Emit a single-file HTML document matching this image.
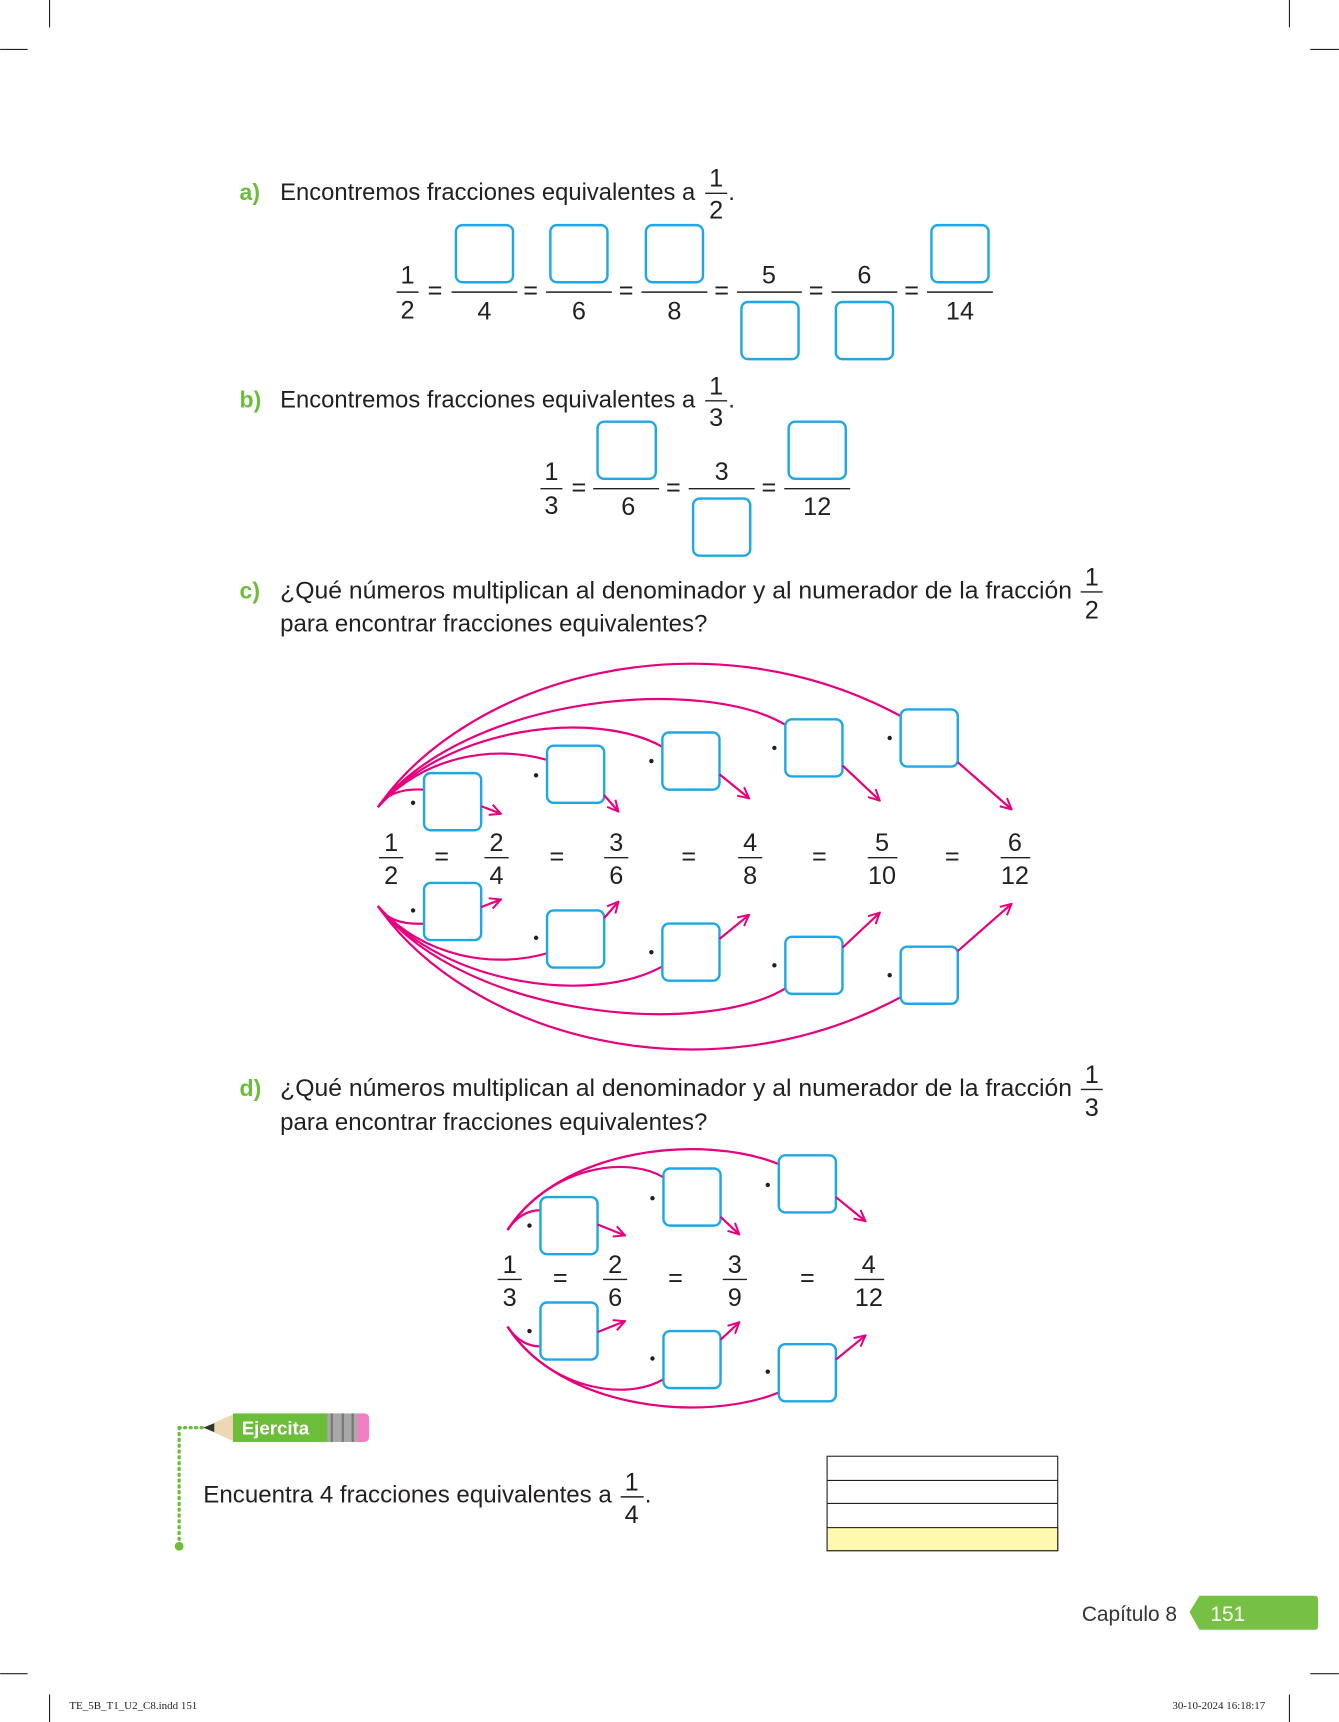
<!DOCTYPE html>
<html><head><meta charset="utf-8"><style>
html,body{margin:0;padding:0;background:#fff;width:1339px;height:1722px;overflow:hidden}
svg{display:block}
text{font-family:"Liberation Sans",sans-serif;fill:#231f20}
.t{font-size:22px}
.n{font-size:23px;text-anchor:middle}
.g{fill:#6cbd3a;font-weight:bold;font-size:21px}
.bx{fill:none;stroke:#1ea7e6;stroke-width:2.2}
.bar{stroke:#231f20;stroke-width:1.3}
.pk{fill:none;stroke:#e6007e;stroke-width:2}
</style></head><body>
<svg width="1339" height="1722" viewBox="0 0 1219 1568" xmlns="http://www.w3.org/2000/svg">
<defs>
<marker id="ar" viewBox="0 0 12 12" refX="11" refY="6" markerWidth="12" markerHeight="12" markerUnits="userSpaceOnUse" orient="auto">
<path d="M1,1 L11,6 L1,11" fill="none" stroke="#e6007e" stroke-width="1.8"/>
</marker>
</defs>
<g stroke="#231f20" stroke-width="1">
<line x1="45" y1="0" x2="45" y2="25"/><line x1="1174" y1="0" x2="1174" y2="25"/>
<line x1="0" y1="45" x2="25" y2="45"/><line x1="1193" y1="45" x2="1219" y2="45"/>
<line x1="0" y1="1524" x2="25" y2="1524"/><line x1="1193" y1="1524" x2="1219" y2="1524"/>
<line x1="45" y1="1543" x2="45" y2="1568"/><line x1="1174" y1="1543" x2="1174" y2="1568"/>
</g>
<text x="63" y="1556" style="font-family:'Liberation Serif',serif;font-size:10px">TE_5B_T1_U2_C8.indd 151</text>
<text x="1152" y="1556" text-anchor="end" style="font-family:'Liberation Serif',serif;font-size:10px">30-10-2024 16:18:17</text>

<text class="g" x="218" y="182">a)</text>
<text class="t" x="255" y="182" textLength="378" lengthAdjust="spacingAndGlyphs">Encontremos fracciones equivalentes a</text>
<text class="n" x="652" y="170">1</text><line class="bar" x1="642" y1="176" x2="662" y2="176"/><text class="n" x="652" y="199">2</text><text class="t" x="663" y="182">.</text>

<text class="n" x="371" y="258">1</text><line class="bar" x1="361" y1="266" x2="381" y2="266"/><text class="n" x="371" y="290">2</text>
<text class="n" x="396" y="272">=</text>
<rect class="bx" x="415" y="205" width="52" height="52" rx="6"/><line class="bar" x1="411" y1="266" x2="471" y2="266"/><text class="n" x="441" y="291">4</text>
<text class="n" x="483" y="272">=</text>
<rect class="bx" x="501" y="205" width="52" height="52" rx="6"/><line class="bar" x1="497" y1="266" x2="557" y2="266"/><text class="n" x="527" y="291">6</text>
<text class="n" x="570" y="272">=</text>
<rect class="bx" x="588" y="205" width="52" height="52" rx="6"/><line class="bar" x1="584" y1="266" x2="644" y2="266"/><text class="n" x="614" y="291">8</text>
<text class="n" x="657" y="272">=</text>
<text class="n" x="700" y="258">5</text><line class="bar" x1="671" y1="266" x2="730" y2="266"/><rect class="bx" x="675" y="275" width="52" height="52" rx="6"/>
<text class="n" x="743" y="272">=</text>
<text class="n" x="787" y="258">6</text><line class="bar" x1="757" y1="266" x2="817" y2="266"/><rect class="bx" x="761" y="275" width="52" height="52" rx="6"/>
<text class="n" x="830" y="272">=</text>
<rect class="bx" x="848" y="205" width="52" height="52" rx="6"/><line class="bar" x1="844" y1="266" x2="904" y2="266"/><text class="n" x="874" y="291">14</text>

<text class="g" x="218" y="371">b)</text>
<text class="t" x="255" y="371" textLength="378" lengthAdjust="spacingAndGlyphs">Encontremos fracciones equivalentes a</text>
<text class="n" x="652" y="359">1</text><line class="bar" x1="642" y1="365" x2="662" y2="365"/><text class="n" x="652" y="388">3</text><text class="t" x="663" y="371">.</text>

<text class="n" x="502" y="437">1</text><line class="bar" x1="492" y1="445" x2="512" y2="445"/><text class="n" x="502" y="468">3</text>
<text class="n" x="527" y="451">=</text>
<rect class="bx" x="544" y="384" width="53" height="52" rx="6"/><line class="bar" x1="540" y1="445" x2="600" y2="445"/><text class="n" x="572" y="469">6</text>
<text class="n" x="613" y="451">=</text>
<text class="n" x="657" y="437">3</text><line class="bar" x1="627" y1="445" x2="687" y2="445"/><rect class="bx" x="631" y="454" width="52" height="52" rx="6"/>
<text class="n" x="700" y="451">=</text>
<rect class="bx" x="718" y="384" width="52" height="52" rx="6"/><line class="bar" x1="714" y1="445" x2="774" y2="445"/><text class="n" x="744" y="469">12</text>

<text class="g" x="218" y="545">c)</text>
<text class="t" x="255" y="545" textLength="721" lengthAdjust="spacingAndGlyphs">¿Qué números multiplican al denominador y al numerador de la fracción</text>
<text class="n" x="994" y="533">1</text><line class="bar" x1="984" y1="539" x2="1004" y2="539"/><text class="n" x="994" y="563">2</text>
<text class="t" x="255" y="575" textLength="389" lengthAdjust="spacingAndGlyphs">para encontrar fracciones equivalentes?</text>

<g id="ctop">
<path class="pk" d="M344,735 C352,722 368,718 386,719"/>
<path class="pk" d="M344,735 C385,688 450,678 498,692"/>
<path class="pk" d="M344,735 C405,662 540,645 603,680"/>
<path class="pk" d="M344,735 C425,632 640,615 715,660"/>
<path class="pk" d="M344,735 C425,618 640,555 820,652"/>
<rect class="bx" x="386" y="704" width="52" height="52" rx="6" fill="#fff"/>
<rect class="bx" x="498" y="679" width="52" height="52" rx="6"/>
<rect class="bx" x="603" y="667" width="52" height="52" rx="6"/>
<rect class="bx" x="715" y="655" width="52" height="52" rx="6"/>
<rect class="bx" x="820" y="646" width="52" height="52" rx="6"/>
<g fill="#231f20"><circle cx="376" cy="731" r="2"/><circle cx="488" cy="706" r="2"/><circle cx="593" cy="693" r="2"/><circle cx="705" cy="681" r="2"/><circle cx="810" cy="672" r="2"/></g>
<path class="pk" d="M438,734 L456,741" marker-end="url(#ar)"/>
<path class="pk" d="M550,724 L563,739" marker-end="url(#ar)"/>
<path class="pk" d="M655,705 L682,727" marker-end="url(#ar)"/>
<path class="pk" d="M767,697 L801,729" marker-end="url(#ar)"/>
<path class="pk" d="M872,694 L921,737" marker-end="url(#ar)"/>
</g>
<use href="#ctop" transform="translate(0,1560) scale(1,-1)"/>

<text class="n" x="356" y="775">1</text><line class="bar" x1="345" y1="781" x2="367" y2="781"/><text class="n" x="356" y="805">2</text>
<text class="n" x="402" y="787">=</text>
<text class="n" x="452" y="775">2</text><line class="bar" x1="441" y1="781" x2="463" y2="781"/><text class="n" x="452" y="805">4</text>
<text class="n" x="507" y="787">=</text>
<text class="n" x="561" y="775">3</text><line class="bar" x1="550" y1="781" x2="572" y2="781"/><text class="n" x="561" y="805">6</text>
<text class="n" x="627" y="787">=</text>
<text class="n" x="683" y="775">4</text><line class="bar" x1="672" y1="781" x2="694" y2="781"/><text class="n" x="683" y="805">8</text>
<text class="n" x="746" y="787">=</text>
<text class="n" x="803" y="775">5</text><line class="bar" x1="790" y1="781" x2="817" y2="781"/><text class="n" x="803" y="805">10</text>
<text class="n" x="867" y="787">=</text>
<text class="n" x="924" y="775">6</text><line class="bar" x1="911" y1="781" x2="938" y2="781"/><text class="n" x="924" y="805">12</text>

<text class="g" x="218" y="998">d)</text>
<text class="t" x="255" y="998" textLength="721" lengthAdjust="spacingAndGlyphs">¿Qué números multiplican al denominador y al numerador de la fracción</text>
<text class="n" x="994" y="986">1</text><line class="bar" x1="984" y1="992" x2="1004" y2="992"/><text class="n" x="994" y="1016">3</text>
<text class="t" x="255" y="1029" textLength="389" lengthAdjust="spacingAndGlyphs">para encontrar fracciones equivalentes?</text>

<g id="dtop">
<path class="pk" d="M462,1120 C470,1108 480,1102 492,1102"/>
<path class="pk" d="M462,1120 C500,1062 570,1052 604,1072"/>
<path class="pk" d="M462,1120 C510,1045 640,1032 709,1060"/>
<rect class="bx" x="492" y="1090" width="52" height="52" rx="6"/>
<rect class="bx" x="604" y="1064" width="52" height="52" rx="6"/>
<rect class="bx" x="709" y="1052" width="52" height="52" rx="6"/>
<g fill="#231f20"><circle cx="482" cy="1116" r="2"/><circle cx="594" cy="1091" r="2"/><circle cx="699" cy="1079" r="2"/></g>
<path class="pk" d="M544,1115 L569,1125" marker-end="url(#ar)"/>
<path class="pk" d="M656,1108 L673,1124" marker-end="url(#ar)"/>
<path class="pk" d="M761,1090 L788,1112" marker-end="url(#ar)"/>
</g>
<use href="#dtop" transform="translate(0,2328) scale(1,-1)"/>

<text class="n" x="464" y="1159">1</text><line class="bar" x1="453" y1="1165" x2="475" y2="1165"/><text class="n" x="464" y="1189">3</text>
<text class="n" x="510" y="1171">=</text>
<text class="n" x="560" y="1159">2</text><line class="bar" x1="549" y1="1165" x2="571" y2="1165"/><text class="n" x="560" y="1189">6</text>
<text class="n" x="615" y="1171">=</text>
<text class="n" x="669" y="1159">3</text><line class="bar" x1="658" y1="1165" x2="680" y2="1165"/><text class="n" x="669" y="1189">9</text>
<text class="n" x="735" y="1171">=</text>
<text class="n" x="791" y="1159">4</text><line class="bar" x1="778" y1="1165" x2="805" y2="1165"/><text class="n" x="791" y="1189">12</text>

<line x1="163" y1="1300" x2="185" y2="1300" stroke="#6cbd3a" stroke-width="3" stroke-dasharray="1 4" stroke-linecap="round"/>
<line x1="163" y1="1300" x2="163" y2="1404" stroke="#6cbd3a" stroke-width="3" stroke-dasharray="1 4.3" stroke-linecap="round"/>
<circle cx="163" cy="1408" r="4" fill="#6cbd3a"/>
<path d="M185,1300 L214,1287 L214,1313 Z" fill="#ecd9b4"/>
<path d="M185,1300 L195,1296 L195,1304 Z" fill="#333"/>
<rect x="212" y="1287" width="88" height="26" fill="#6cbd3a"/>
<text x="220" y="1306" style="font-size:17px;font-weight:bold;fill:#fff">Ejercita</text>
<rect x="298" y="1287" width="27" height="26" fill="#a8a8a8"/>
<g stroke="#777" stroke-width="2"><line x1="302" y1="1287" x2="302" y2="1313"/><line x1="312" y1="1287" x2="312" y2="1313"/><line x1="321" y1="1287" x2="321" y2="1313"/></g>
<path d="M325,1287 H331 Q336,1287 336,1292 V1308 Q336,1313 331,1313 H325 Z" fill="#ef7fc0"/>

<text class="t" x="185" y="1368" textLength="372" lengthAdjust="spacingAndGlyphs">Encuentra 4 fracciones equivalentes a</text>
<text class="n" x="575" y="1357">1</text><line class="bar" x1="565" y1="1363" x2="586" y2="1363"/><text class="n" x="575" y="1387">4</text><text class="t" x="587" y="1368">.</text>

<g stroke="#231f20" stroke-width="1">
<rect x="753" y="1326" width="210" height="86" fill="#fff"/>
<rect x="753" y="1391" width="210" height="21" fill="#fff9b0"/>
<line x1="753" y1="1348" x2="963" y2="1348"/><line x1="753" y1="1369" x2="963" y2="1369"/>
</g>

<text x="985" y="1476" style="font-size:19px;fill:#333">Capítulo 8</text>
<path d="M1092,1453 H1197 Q1200,1453 1200,1456 V1481 Q1200,1484 1197,1484 H1092 L1083,1468 Z" fill="#76c043"/>
<text x="1102" y="1476" style="font-size:19px;fill:#fff">151</text>
</svg>
</body></html>
